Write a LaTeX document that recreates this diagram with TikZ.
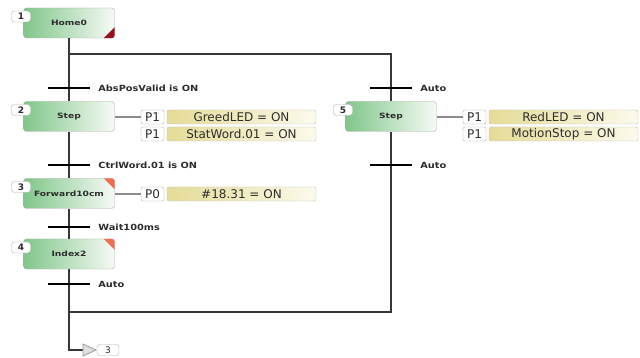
\documentclass[tikz,border=0pt]{standalone}
\usepackage{fontspec}
\setmainfont{DejaVu Sans}
\newfontfamily\stepfont[FakeStretch=1.25]{DejaVu Sans}
\newfontfamily\lblfont[FakeStretch=1.15]{DejaVu Sans}
\definecolor{stepgreen}{RGB}{128,198,138}
\definecolor{stepwhite}{RGB}{246,250,246}
\definecolor{actleft}{RGB}{228,220,150}
\definecolor{actright}{RGB}{252,250,236}
\definecolor{boxgray}{RGB}{175,175,168}
\definecolor{darkred}{RGB}{150,16,34}
\definecolor{orangered}{RGB}{238,110,80}
\definecolor{linegray}{RGB}{55,55,55}
\definecolor{txtgray}{RGB}{45,45,45}
\tikzset{
  stepbox/.style={draw=boxgray, rounded corners=3pt, minimum width=91pt, minimum height=30pt,
    inner sep=0pt, left color=stepgreen, right color=stepwhite, text=txtgray,
    font=\stepfont\bfseries\fontsize{7.3}{8}\selectfont},
  badge/.style={draw=boxgray, fill=white, rounded corners=3pt, minimum width=19pt, minimum height=11pt,
    inner sep=0pt, text=txtgray, font=\bfseries\fontsize{9}{9}\selectfont, text depth=0pt},
  transbar/.style={fill=black, draw=none, rectangle, minimum width=42pt, minimum height=2.8pt, inner sep=0pt},
  tlabel/.style={anchor=west, inner sep=0pt, text=txtgray, font=\lblfont\bfseries\fontsize{8.5}{9}\selectfont},
  pbox/.style={draw=boxgray, fill=white, rounded corners=2pt, minimum width=23pt, minimum height=14pt,
    inner sep=0pt, text=txtgray, font=\fontsize{12}{12}\selectfont},
  actbox/.style={draw=boxgray!80, rounded corners=2pt, minimum width=149pt, minimum height=14pt,
    inner sep=0pt, left color=actleft, right color=actright, text=txtgray,
    font=\fontsize{12}{12}\selectfont},
  conn/.style={draw=linegray, line width=1.1pt},
  actline/.style={draw=gray!90, line width=1.1pt},
}
\begin{document}
\begin{tikzpicture}[x=1pt,y=-1pt]
\useasboundingbox[fill=white] (0,0) rectangle (640,358);

% connectors
\coordinate (b1) at (69,54);
\coordinate (j1) at (69,312);
\coordinate (jt) at (83,350);

% steps
\node[stepbox] (s1) at (69,23) {Home0};
\node[stepbox] (s2) at (69,116.5) {Step};
\node[stepbox] (s3) at (69,193.5) {Forward10cm};
\node[stepbox] (s4) at (69,254) {Index2};
\node[stepbox] (s5) at (391,116.5) {Step};

\draw[conn] (s1.south) -- (s2.north);
\draw[conn] (s2.south) -- (s3.north);
\draw[conn] (s3.south) -- (s4.north);
\draw[conn] (s4.south) |- (jt);
\draw[conn] (b1) -| (s5.north);
\draw[conn] (s5.south) |- (j1);

% corner marks
\fill[darkred] ([xshift=-11pt]s1.south east) [rounded corners=3pt] -- (s1.south east) [sharp corners] -- ([yshift=11pt]s1.south east) -- cycle;
\fill[orangered] ([xshift=-11pt]s3.north east) [rounded corners=3pt] -- (s3.north east) [sharp corners] -- ([yshift=-11pt]s3.north east) -- cycle;
\fill[orangered] ([xshift=-11pt]s4.north east) [rounded corners=3pt] -- (s4.north east) [sharp corners] -- ([yshift=-11pt]s4.north east) -- cycle;

% badges
\node[badge] (n1) at (21,16.5) {1};
\node[badge] (n2) at (21,110) {2};
\node[badge] (n3) at (21,187) {3};
\node[badge] (n4) at (21,247.5) {4};
\node[badge] (n5) at (343,110) {5};

% transitions
\node[transbar] (t1) at (69,88) {};
\node[tlabel] (l1) at ([xshift=8pt]t1.east) {AbsPosValid is ON};
\node[transbar] (t2) at (69,165) {};
\node[tlabel] (l2) at ([xshift=8pt]t2.east) {CtrlWord.01 is ON};
\node[transbar] (t3) at (69,227) {};
\node[tlabel] (l3) at ([xshift=8pt]t3.east) {Wait100ms};
\node[transbar] (t4) at (69,284) {};
\node[tlabel] (l4) at ([xshift=8pt]t4.east) {Auto};
\node[transbar] (t5) at (391,88) {};
\node[tlabel] (l5) at ([xshift=8pt]t5.east) {Auto};
\node[transbar] (t6) at (391,165) {};
\node[tlabel] (l6) at ([xshift=8pt]t6.east) {Auto};

% actions step 2
\node[pbox] (p21) at (152.5,117) {P1};
\node[actbox] (a21) at (241.5,117) {GreedLED = ON};
\node[pbox] (p22) at (152.5,134) {P1};
\node[actbox] (a22) at (241.5,134) {StatWord.01 = ON};
\draw[actline] (s2.east |- p21.west) -- (p21.west);

% actions step 3
\node[pbox] (p31) at (152.5,194) {P0};
\node[actbox] (a31) at (241.5,194) {\#18.31 = ON};
\draw[actline] (s3.east |- p31.west) -- (p31.west);

% actions step 5
\node[pbox] (p51) at (474.5,117) {P1};
\node[actbox] (a51) at (563.5,117) {RedLED = ON};
\node[pbox] (p52) at (474.5,134) {P1};
\node[actbox] (a52) at (563.5,134) {MotionStop = ON};
\draw[actline] (s5.east |- p51.west) -- (p51.west);

% jump
\draw[draw=gray!80, fill=gray!25, line width=0.8pt] (jt) ++(0,-6) -- ++(13,6) -- ++(-13,6) -- cycle;
\node[badge, minimum width=22pt, minimum height=11pt, font=\fontsize{9}{9}\selectfont] (j3) at (108,350) {3};
\end{tikzpicture}
\end{document}
